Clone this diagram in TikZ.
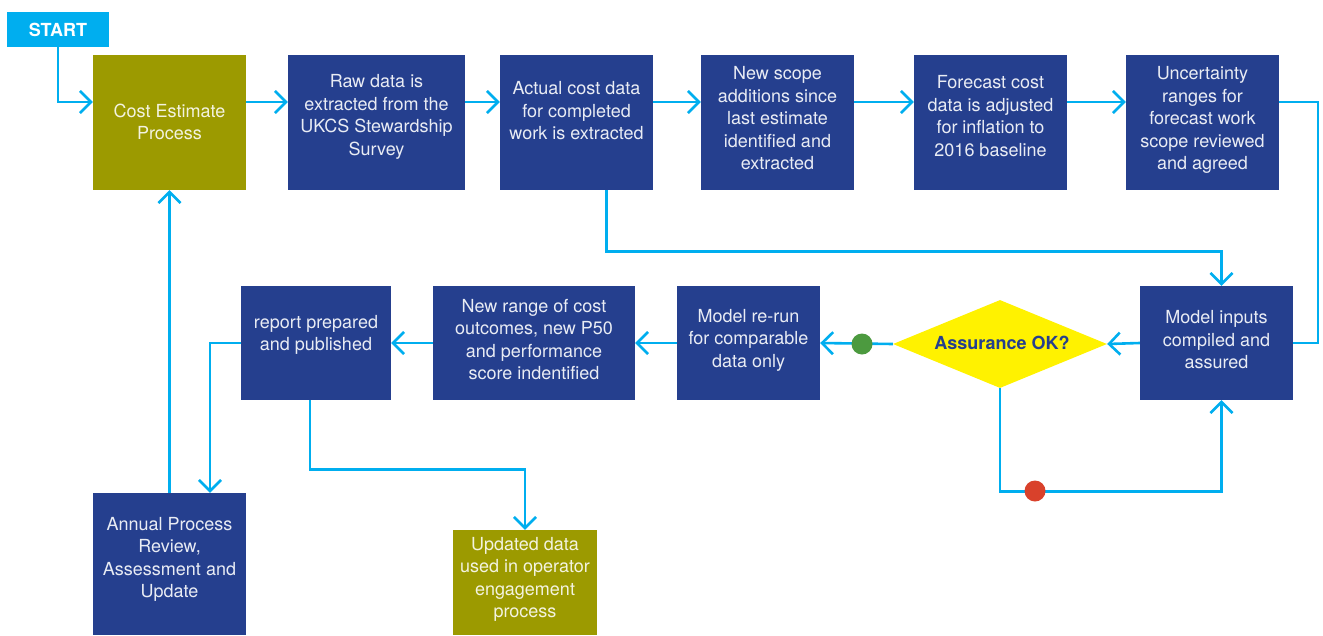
\documentclass[tikz,border=0pt]{standalone}
\usepackage{fontspec}
\setmainfont{TeX Gyre Heros}
\usetikzlibrary{arrows.meta,shapes.geometric}
\definecolor{dblue}{HTML}{253F8E}
\definecolor{olive}{HTML}{9C9A00}
\definecolor{lcyan}{HTML}{00AEEF}
\definecolor{dyellow}{HTML}{FFF200}
\definecolor{dgreen}{HTML}{4C9A3F}
\definecolor{dred}{HTML}{D9412B}
\begin{document}
\begin{tikzpicture}[x=1pt,y=-1pt,
  boxb/.style={rectangle, fill=dblue, draw=none, inner sep=0pt},
  boxo/.style={rectangle, fill=olive, draw=none, inner sep=0pt},
  txt/.style={text=white!90!dblue, align=center, inner sep=0pt, font=\fontsize{18}{22.5}\selectfont},
  txto/.style={txt, text=white!88!olive},
  arr/.style={draw=lcyan, line width=2.6pt, -{Straight Barb[length=11pt,width=22pt]}},
  conn/.style={draw=lcyan, line width=2.6pt},
  dot/.style={circle, inner sep=0pt, minimum size=21pt, draw=none}
]
\useasboundingbox (0,0) rectangle (1323,635);

% boxes
\node[rectangle, fill=lcyan, inner sep=0pt, minimum width=102pt, minimum height=35pt, text=white, font=\fontsize{18}{22}\selectfont\bfseries] (start) at (58,29.5) {START};
\node[boxo, minimum width=153pt, minimum height=135pt] (cost) at (169.5,122.5) {};
\node[boxb, minimum width=177pt, minimum height=135pt] (raw) at (376.5,122.5) {};
\node[boxb, minimum width=153pt, minimum height=135pt] (actual) at (576.5,122.5) {};
\node[boxb, minimum width=153pt, minimum height=135pt] (scope) at (777.5,122.5) {};
\node[boxb, minimum width=153pt, minimum height=135pt] (fcast) at (990.5,122.5) {};
\node[boxb, minimum width=153pt, minimum height=135pt] (unc) at (1202.5,122.5) {};
\node[boxb, minimum width=153pt, minimum height=114pt] (inputs) at (1216.5,343) {};
\node[diamond, fill=dyellow, inner sep=0pt, minimum width=214pt, minimum height=88pt] (dia) at (1000,344) {};
\node[boxb, minimum width=143pt, minimum height=114pt] (rerun) at (748.5,343) {};
\node[boxb, minimum width=202pt, minimum height=114pt] (range) at (534,343) {};
\node[boxb, minimum width=150pt, minimum height=114pt] (report) at (316,343) {};
\node[boxb, minimum width=153pt, minimum height=142pt] (annual) at (169.5,564) {};
\node[boxo, minimum width=144pt, minimum height=105pt] (updated) at (525,582.5) {};

% texts
\node[txto] (costt) at (169.5,122) {Cost Estimate\\Process};
\node[txt] (rawt) at (376.5,117) {Raw data is\\extracted from the\\UKCS Stewardship\\Survey};
\node[txt] (actualt) at (576.5,111) {Actual cost data\\for completed\\work is extracted};
\node[txt] (scopet) at (777.5,118.5) {New scope\\additions since\\last estimate\\identified and\\extracted};
\node[txt] (fcastt) at (990.5,116) {Forecast cost\\data is adjusted\\for inflation to\\2016 baseline};
\node[txt] (unct) at (1202.5,120) {Uncertainty\\ranges for\\forecast work\\scope reviewed\\and agreed};
\node[txt] (inputst) at (1216.5,340) {Model inputs\\compiled and\\assured};
\node[font=\fontsize{18}{22}\selectfont\bfseries, text=dblue, inner sep=0pt] (diat) at (1002,343) {Assurance OK?};
\node[txt] (reruntt) at (748.5,340) {Model re-run\\for comparable\\data only};
\node[txt] (ranget) at (534,339.5) {New range of cost\\outcomes, new P50\\and performance\\score indentified};
\node[txt] (reportt) at (316,335) {report prepared\\and published};
\node[txt] (annualt) at (169.5,559.5) {Annual Process\\Review,\\Assessment and\\Update};
\node[txto] (updatedt) at (525,579.5) {Updated data\\used in operator\\engagement\\process};

% connectors
\draw[arr] (start.south) |- (cost.west |- 0,102);
\draw[arr] (cost.east |- 0,102) -- (raw.west |- 0,102);
\draw[arr] (raw.east |- 0,102) -- (actual.west |- 0,102);
\draw[arr] (actual.east |- 0,102) -- (scope.west |- 0,102);
\draw[arr] (scope.east |- 0,102) -- (fcast.west |- 0,102);
\draw[arr] (fcast.east |- 0,102) -- (unc.west |- 0,102);
\coordinate (rc) at (1318,102);
\draw[conn] (unc.east |- 0,102) -- (rc) |- (inputs.east);
\draw[arr] ([xshift=30pt]actual.south) -- ++(0,61) -| ([xshift=5pt]inputs.north);
\draw[arr] (inputs.west) -- (dia.east);
\draw[arr] (dia.west) -- (rerun.east);
\draw[arr] (dia.south) -- ++(0,103) -| ([xshift=5pt]inputs.south);
\draw[arr] (rerun.west) -- (range.east);
\draw[arr] (range.west) -- (report.east);
\coordinate (lc) at (210,343);
\draw[arr] (report.west) -- (lc) -- (lc |- annual.north);
\draw[arr] ([xshift=-6pt]report.south) -- ++(0,69) -| (updated.north);
\draw[arr] (annual.north) -- (cost.south);

% dots
\node[dot, fill=dgreen] (okdot) at (862,344) {};
\node[dot, fill=dred] (nodot) at (1035,491) {};
\end{tikzpicture}
\end{document}
